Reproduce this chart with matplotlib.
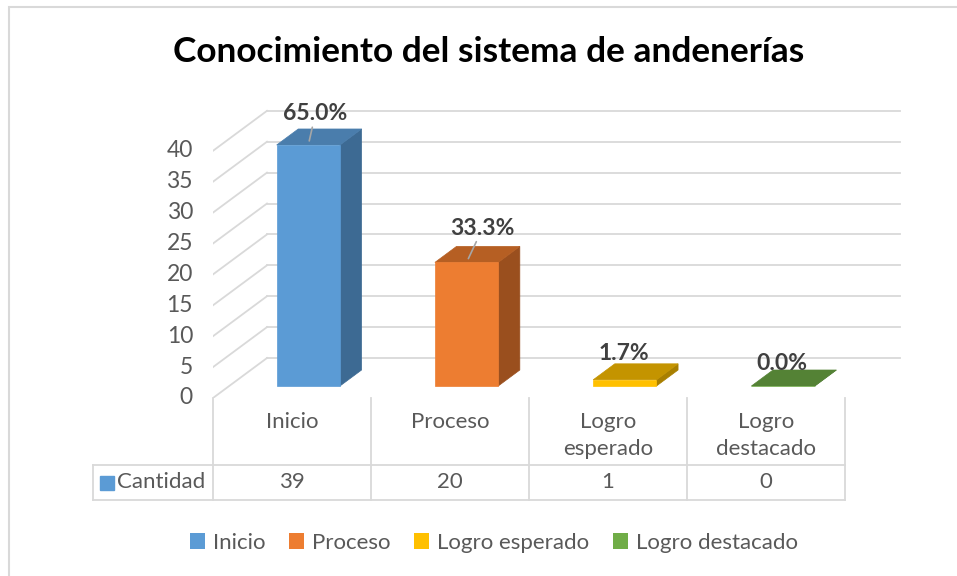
import matplotlib.pyplot as plt
from matplotlib.patches import Polygon, Patch, Rectangle

categories = ['Inicio', 'Proceso', 'Logro esperado', 'Logro destacado']
table_labels = ['Inicio', 'Proceso', 'Logro\nesperado', 'Logro\ndestacado']
cantidad = [39, 20, 1, 0]
porcentaje = [65.0, 33.3, 1.7, 0.0]
yticks = [0, 5, 10, 15, 20, 25, 30, 35, 40]

front_col = ['#5B9BD5', '#ED7D31', '#FFC000', '#70AD47']
top_col = ['#4A7DAC', '#B65F23', '#C49400', '#548235']
side_col = ['#3D6A93', '#9A4F1E', '#A87F00', '#466D2C']

# label offsets (pixels, up is positive) and whether Excel drew a leader line
lab_off = [(7, 31), (16, 34), (-1, 26), (-1, 23)]
leader = [True, True, False, False]

plt.rcParams['font.family'] = ['Lato', 'DejaVu Sans']
GRAY = '#595959'
GRID = '#D9D9D9'

W, H = 957, 576
fig = plt.figure(figsize=(W / 100, H / 100), dpi=100)

# pixel layout of the excel 3d plot
cat_px = 158.25          # one category on the front plane
val_px = 6.18            # one unit on the value axis
x0, y0 = 213, 398        # front left corner of the floor
DX, DY = 54 / cat_px, 40 / val_px   # shift of the back wall, data units
xmax, vmax = 4.4, 48

ax = fig.add_axes([x0 / W, 1 - y0 / H, xmax * cat_px / W, vmax * val_px / H])
ax.set_xlim(0, xmax)
ax.set_ylim(0, vmax)
ax.axis('off')


def proj(x, v, d):
    return (x + d * DX, v + d * DY)


# walls
for v in yticks:
    a, b = proj(0, v, 1), proj(len(categories), v, 1)
    ax.plot([a[0], b[0]], [a[1], b[1]], color=GRID, lw=1.3, zorder=1)
    c = proj(0, v, 0)
    ax.plot([c[0], a[0]], [c[1], a[1]], color=GRID, lw=1.3, zorder=1)
    ax.annotate(str(v), (0, v), xytext=(-20, 0), textcoords='offset pixels',
                ha='right', va='center', fontsize=16.5, color=GRAY)

# bars
d0, d1, bw = 0.3, 0.7, 0.4
for i, v in enumerate(cantidad):
    xl, xr = i + 0.5 - bw / 2, i + 0.5 + bw / 2
    faces = [
        ([proj(xr, 0, d0), proj(xr, 0, d1), proj(xr, v, d1), proj(xr, v, d0)], side_col[i]),
        ([proj(xl, v, d0), proj(xr, v, d0), proj(xr, v, d1), proj(xl, v, d1)], top_col[i]),
        ([proj(xl, 0, d0), proj(xr, 0, d0), proj(xr, v, d0), proj(xl, v, d0)], front_col[i]),
    ]
    for pts, c in faces:
        ax.add_patch(Polygon(pts, closed=True, facecolor=c, edgecolor=c, lw=0.5, zorder=3))
    tip = proj(i + 0.5, v, d0)
    ax.annotate(f'{porcentaje[i]:.1f}%', tip, xytext=lab_off[i], textcoords='offset pixels',
                ha='center', va='center', fontsize=16.5, fontweight='bold', color='#404040',
                arrowprops=dict(arrowstyle='-', color='#A6A6A6', lw=1.2, shrinkA=0, shrinkB=3)
                if leader[i] else None, zorder=5)

# data table below the plot
tl, tr, tb, tt = 93, 845, 500, 398
row_px = 35
tab = fig.add_axes([tl / W, 1 - tb / H, (tr - tl) / W, (tb - tt) / H])
tab.set_xlim(-(x0 - tl) / cat_px, len(categories))
tab.set_ylim(0, tb - tt)
tab.axis('off')
for k in range(len(categories) + 1):
    tab.plot([k, k], [0, tb - tt], color=GRID, lw=1.3, clip_on=False)
left = -(x0 - tl) / cat_px
tab.plot([left, len(categories)], [row_px, row_px], color=GRID, lw=1.3, clip_on=False)
tab.plot([left, len(categories)], [0, 0], color=GRID, lw=1.3, clip_on=False)
tab.plot([left, left], [0, row_px], color=GRID, lw=1.3, clip_on=False)
for i, lab in enumerate(table_labels):
    tab.text(i + 0.5, tb - tt - 14, lab, ha='center', va='top', fontsize=16,
             color=GRAY, linespacing=1.45)
    tab.text(i + 0.5, row_px / 2, str(cantidad[i]), ha='center', va='center',
             fontsize=16, color=GRAY)
tab.annotate('Cantidad', (0, row_px / 2), xytext=(-8, 0), textcoords='offset pixels',
             ha='right', va='center', fontsize=16, color=GRAY)
tab.plot([left + 0.087], [row_px / 2], marker='s', ms=9.5, color=front_col[0], clip_on=False)

# title, legend, frame
fig.text(489 / W, 1 - 62 / H, 'Conocimiento del sistema de andenerías', ha='center',
         va='baseline', fontsize=25.4, fontweight='bold', color='black')
handles = [Patch(facecolor=c) for c in front_col]
fig.legend(handles, categories, loc='center', bbox_to_anchor=(0.516, 1 - 543 / H),
           ncol=4, frameon=False, fontsize=16, handlelength=0.7, handleheight=0.7,
           handletextpad=0.35, columnspacing=1.05, labelcolor=GRAY)
fig.add_artist(Rectangle((8.5 / W, -0.1), 1.2, 1.1 - 6.5 / H, transform=fig.transFigure,
                         fill=False, edgecolor=GRID, lw=1.5))

fig.savefig('out.png', dpi=100)
